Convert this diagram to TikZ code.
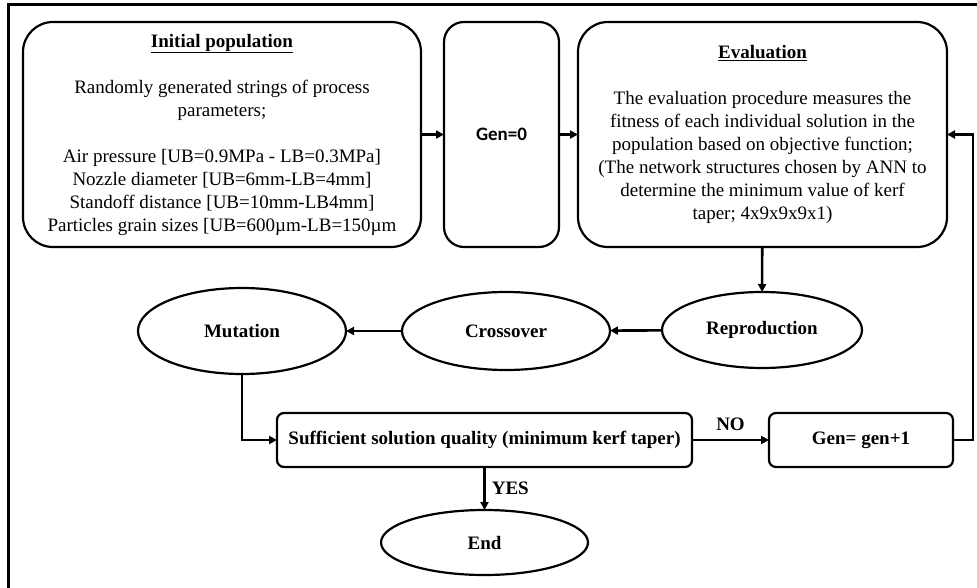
\documentclass[tikz,border=0pt]{standalone}
\usepackage{fontspec}
\setmainfont{Liberation Serif}
\newfontfamily\calib{Carlito}
\usetikzlibrary{shapes.geometric,arrows.meta,positioning}
\tikzset{
  base/.style={draw, line width=2.2pt, inner sep=0pt, outer sep=0pt, align=center, font=\fontsize{19}{23}\selectfont},
  bigbox/.style={base, rounded corners=30pt},
  smallbox/.style={base, rounded corners=7pt, font=\fontsize{19}{23}\selectfont\bfseries},
  oval/.style={base, ellipse, font=\fontsize{19}{23}\selectfont\bfseries},
  conn/.style={line width=2.6pt, -{Triangle[length=8pt,width=8pt]}},
  lbl/.style={font=\fontsize{19}{23}\selectfont\bfseries, inner sep=0pt}
}
\begin{document}
\begin{tikzpicture}[x=1pt,y=-1pt]
\useasboundingbox (0,0) rectangle (977,588);
\draw[line width=3pt] (8.5,588) -- (8.5,5) -- (977,5);
\node[bigbox, minimum width=398pt, minimum height=225pt] (init) at (222,134.5)
 {\underline{\textbf{Initial population}}\\[23pt]
  Randomly generated strings of process\\ parameters;\\[23pt]
  Air pressure [UB=0.9MPa - LB=0.3MPa]\\
  Nozzle diameter [UB=6mm-LB=4mm]\\
  Standoff distance [UB=10mm-LB4mm]\\
  Particles grain sizes [UB=600µm-LB=150µm};
\node[base, rounded corners=20pt, minimum width=115pt, minimum height=225pt, font=\fontsize{19}{23}\calib\bfseries] (gen0) at (501.5,134.5) {Gen=0};
\node[bigbox, minimum width=369pt, minimum height=225pt] (eval) at (762.5,134.5)
 {\underline{\textbf{Evaluation}}\\[23pt]
  The evaluation procedure measures the\\
  fitness of each individual solution in the\\
  population based on objective function;\\
  (The network structures chosen by ANN to\\
  determine the minimum value of kerf\\
  taper; 4x9x9x9x1)};
\node[oval, minimum width=200pt, minimum height=76pt] (repro) at (762,330) {Reproduction};
\node[oval, minimum width=208pt, minimum height=78pt] (cross) at (506,331) {Crossover};
\node[oval, minimum width=208pt, minimum height=86pt] (mut) at (242,331) {Mutation};
\node[smallbox, minimum width=415pt, minimum height=54pt] (suff) at (484.5,440) {Sufficient solution quality (minimum kerf taper)};
\node[smallbox, minimum width=184pt, minimum height=54pt] (gen1) at (861,440) {Gen= gen+1};
\node[oval, minimum width=207pt, minimum height=65pt] (end) at (484.5,542.5) {End};
\draw[conn] (init) -- (gen0);
\draw[conn] (gen0) -- (eval);
\draw[conn] (eval) -- (repro);
\draw[conn] (repro) -- (cross);
\draw[conn] (cross) -- (mut);
\draw[conn] (mut.south) |- (suff.west);
\draw[conn] (suff) -- node[lbl, above=8pt] {NO} (gen1);
\coordinate (loop) at (973,440);
\draw[conn] (gen1.east) -- (loop) |- (eval.east);
\draw[conn] (suff) -- node[lbl, right=6pt] {YES} (end);
\end{tikzpicture}
\end{document}
